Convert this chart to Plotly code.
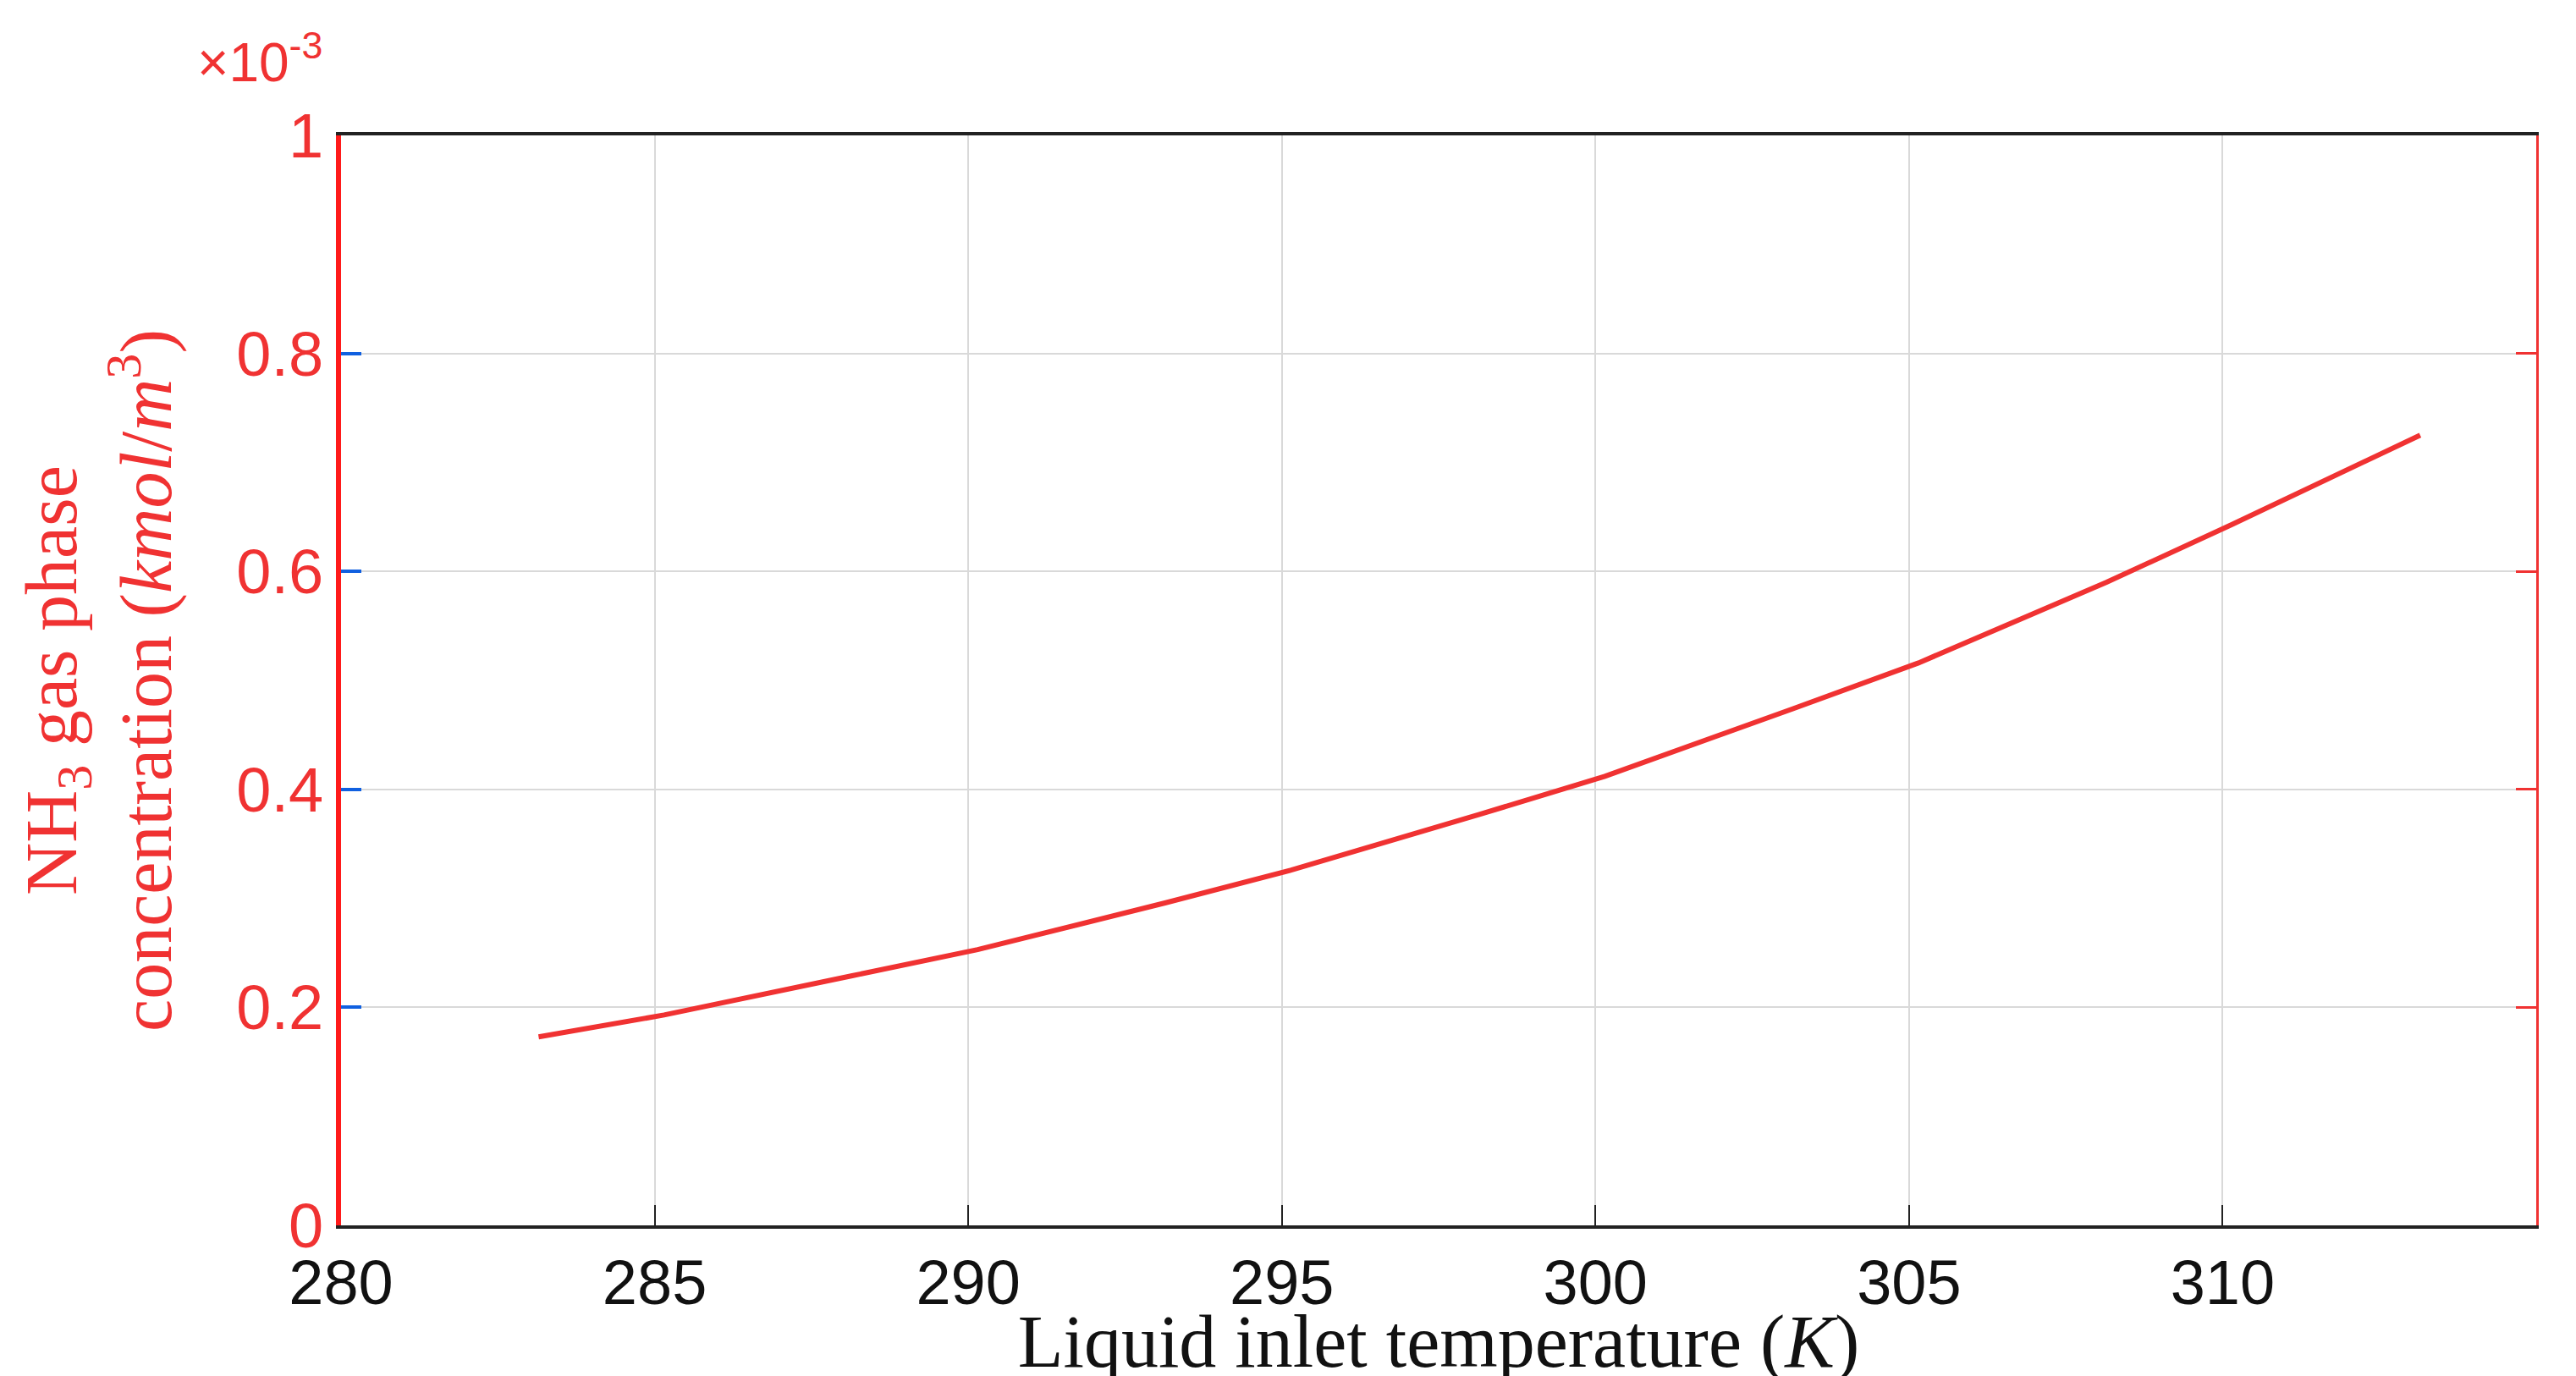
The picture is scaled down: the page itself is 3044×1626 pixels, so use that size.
import plotly.graph_objects as go

temperature_K = [283.15, 285.15, 288.15, 290.15, 293.15, 295.15, 298.15, 300.15, 303.15, 305.15, 308.15, 310.15, 313.15]
nh3_conc = [0.173e-3, 0.193e-3, 0.229e-3, 0.253e-3, 0.296e-3, 0.326e-3, 0.377e-3, 0.412e-3, 0.474e-3, 0.516e-3, 0.590e-3, 0.643e-3, 0.725e-3]
x_ticks = [280, 285, 290, 295, 300, 305, 310, 315]
y_ticks = [0, 0.2e-3, 0.4e-3, 0.6e-3, 0.8e-3, 1.0e-3]
y_ticktext = ["0", "0.2", "0.4", "0.6", "0.8", "1"]

RED = "#f03232"
fig = go.Figure()
fig.add_trace(go.Scatter(x=temperature_K, y=nh3_conc, mode="lines",
                         line=dict(color=RED, width=6), showlegend=False))
fig.add_trace(go.Scatter(x=temperature_K, y=nh3_conc, mode="lines", yaxis="y2",
                         line=dict(color=RED, width=0), opacity=0, hoverinfo="skip", showlegend=False))

fig.update_layout(
    width=3044, height=1626,
    margin=dict(l=395, r=55, t=152, b=180),
    paper_bgcolor="white", plot_bgcolor="white",
    xaxis=dict(range=[280, 315], tickvals=x_ticks, showgrid=True, gridcolor="#d9d9d9", gridwidth=2,
               showline=True, linecolor="#222222", linewidth=4, mirror=True,
               ticks="inside", ticklen=24, tickwidth=2, tickcolor="#222222",
               tickfont=dict(family="Liberation Sans, Arial", size=74, color="#111111"),
               zeroline=False,
               title=dict(text="Liquid inlet temperature (<i>K</i>)", standoff=4,
                          font=dict(family="Liberation Serif, DejaVu Serif", size=88, color="#111111"))),
    yaxis=dict(range=[0, 1e-3], tickvals=y_ticks, ticktext=y_ticktext, showgrid=True,
               gridcolor="#d9d9d9", gridwidth=2, zeroline=False,
               showline=True, linecolor="#ff1a1a", linewidth=6,
               ticks="inside", ticklen=24, tickwidth=4, tickcolor="#1060e0",
               tickfont=dict(family="Liberation Sans, Arial", size=74, color=RED),
               title=dict(text="NH<sub>3</sub> gas phase<br>concentration (<i>kmol</i>/<i>m</i><sup>3</sup>)",
                          standoff=50,
                          font=dict(family="Liberation Serif, DejaVu Serif", size=86, color=RED))),
    yaxis2=dict(range=[0, 1e-3], tickvals=y_ticks, overlaying="y", side="right", anchor="x",
                showticklabels=False, showgrid=False, zeroline=False,
                showline=True, linecolor=RED, linewidth=3,
                ticks="inside", ticklen=24, tickwidth=3, tickcolor=RED),
)
fig.add_annotation(xref="paper", yref="paper", x=0, y=1, xanchor="right", yanchor="bottom",
                   xshift=-20, yshift=48, showarrow=False,
                   text="×10<sup>-3</sup>",
                   font=dict(family="Liberation Sans, Arial", size=64, color=RED))
fig.write_html("out.html")
